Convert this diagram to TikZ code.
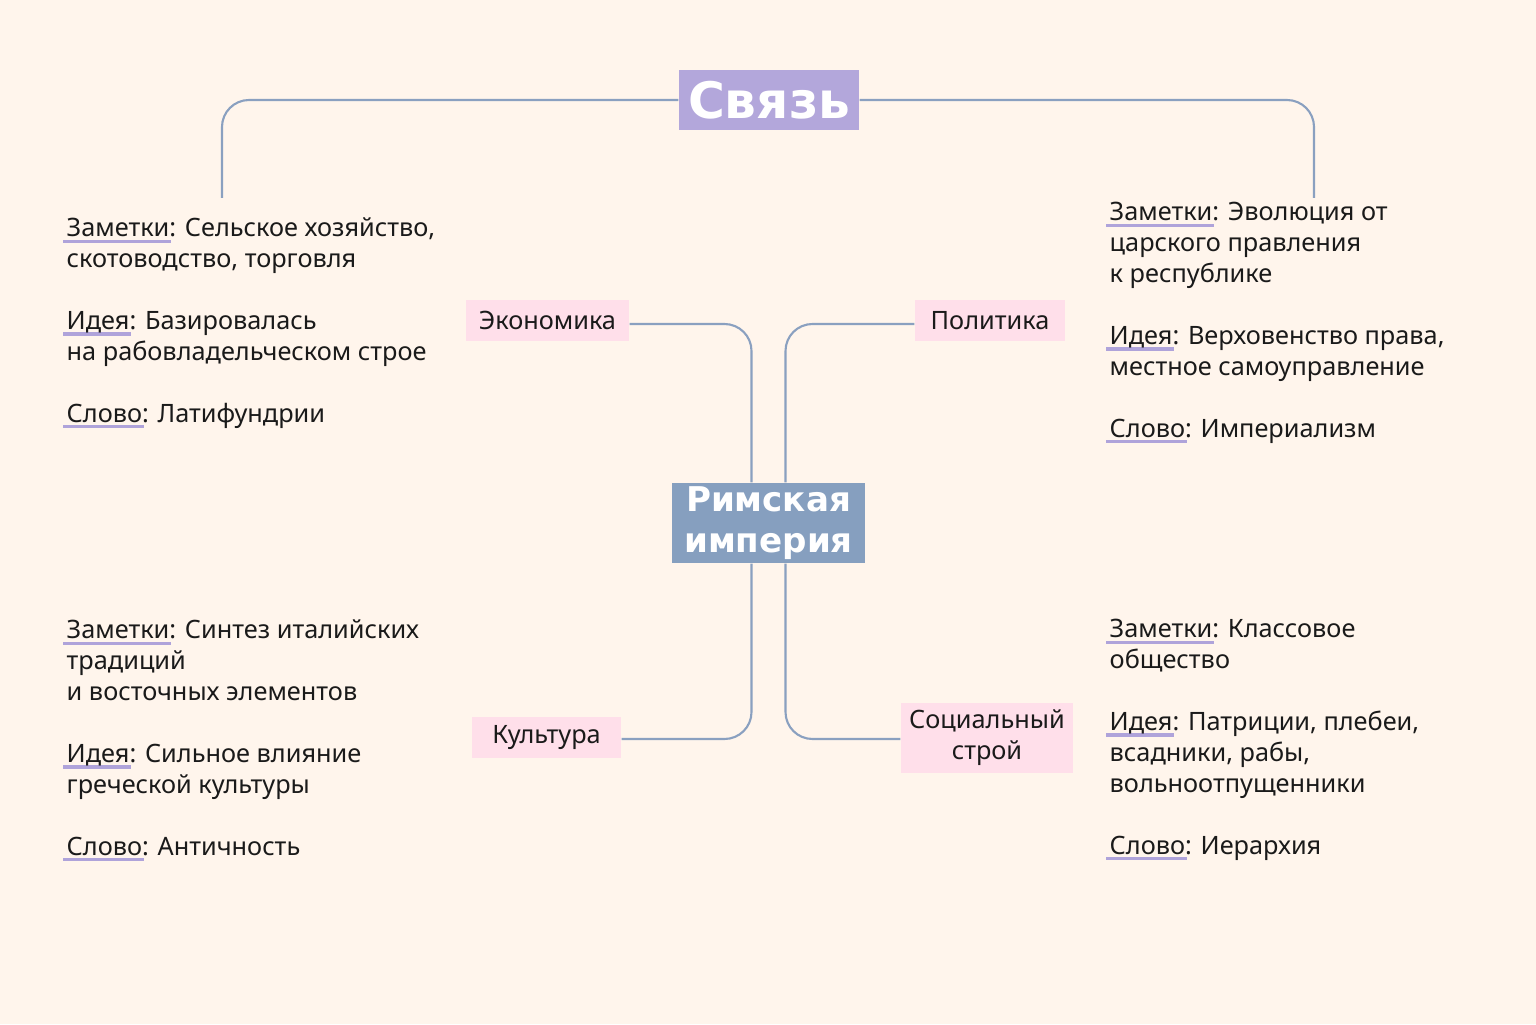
\documentclass[tikz,border=0pt]{standalone}
\usepackage{fontspec}
\setmainfont{Noto Sans}
\newfontfamily\headfont{DejaVu Sans}
\usetikzlibrary{positioning}

\definecolor{paper}{HTML}{FFF5EC}
\definecolor{linkcol}{HTML}{8AA0C0}
\definecolor{lavfill}{HTML}{B3A7DB}
\definecolor{bluefill}{HTML}{869FBF}
\definecolor{pinkfill}{HTML}{FFDFEA}
\definecolor{lavline}{HTML}{AFA3DA}
\definecolor{ink}{HTML}{1A1A1A}

% underlined key word
\newcommand\keyline[1]{\setbox0\hbox{#1}\rlap{\kern-1pt\textcolor{lavline}{\rule[-1.8pt]{\dimexpr\wd0+1.5pt\relax}{0.9pt}}}\box0}

\tikzset{
  link/.style={draw=linkcol, line width=0.6pt, rounded corners=0.27cm},
  topicbox/.style={fill=pinkfill, text=ink, inner sep=0pt, align=center,
    font=\fontsize{7.2}{8.8}\selectfont},
  notes/.style={text=ink, inner sep=0pt, align=left, anchor=base west,
    font=\fontsize{7.2}{8.8}\selectfont}
}

\begin{document}
\begin{tikzpicture}

\fill[paper] (0,0) rectangle (15.36,10.24);
\useasboundingbox (0,0) rectangle (15.36,10.24);

% main nodes
\node[fill=lavfill, text=white, inner sep=0pt, minimum width=1.80cm, minimum height=0.60cm,
  font=\headfont\bfseries\fontsize{14.3}{16}\selectfont] (svyaz) at (7.69,9.24) {Связь};
\node[fill=bluefill, text=white, inner sep=0pt, minimum width=1.93cm, minimum height=0.80cm, align=center,
  font=\headfont\bfseries\fontsize{9.7}{11.6}\selectfont] (rim) at (7.685,5.01) {Римская\\империя};

% topic boxes
\node[topicbox, minimum width=1.63cm, minimum height=0.41cm] (eco) at (5.475,7.035) {Экономика};
\node[topicbox, minimum width=1.50cm, minimum height=0.41cm] (pol) at (9.90,7.035) {Политика};
\node[topicbox, minimum width=1.49cm, minimum height=0.41cm] (kul) at (5.465,2.865) {Культура};
\node[topicbox, minimum width=1.72cm, minimum height=0.70cm] (soc) at (9.87,2.86) {Социальный\\строй};

% free ends of the top bracket
\coordinate (lend) at (2.22,8.26);
\coordinate (rend) at (13.14,8.26);

\draw[link] (svyaz.west) -| (lend);
\draw[link] (svyaz.east) -| (rend);

\draw[link] ([xshift=-0.17cm]rim.north) |- ([yshift=-0.035cm]eco.east);
\draw[link] ([xshift=0.17cm]rim.north) |- ([yshift=-0.035cm]pol.west);
\draw[link] ([xshift=-0.17cm]rim.south) |- ([yshift=-0.015cm]kul.east);
\draw[link] ([xshift=0.17cm]rim.south) |- ([yshift=-0.01cm]soc.west);

% notes (placed by the baseline of their last line)
\node[notes] (ecotext) at (0.66,6.02) {\keyline{Заметки}: Сельское хозяйство,\\
скотоводство, торговля\\[8.8pt]
\keyline{Идея}: Базировалась\\
на рабовладельческом строе\\[8.8pt]
\keyline{Слово}: Латифундрии};

\node[notes] (poltext) at (11.09,5.87) {\keyline{Заметки}: Эволюция от\\
царского правления\\
к республике\\[8.8pt]
\keyline{Идея}: Верховенство права,\\
местное самоуправление\\[8.8pt]
\keyline{Слово}: Империализм};

\node[notes] (kultext) at (0.66,1.69) {\keyline{Заметки}: Синтез италийских\\
традиций\\
и восточных элементов\\[8.8pt]
\keyline{Идея}: Сильное влияние\\
греческой культуры\\[8.8pt]
\keyline{Слово}: Античность};

\node[notes] (soctext) at (11.09,1.70) {\keyline{Заметки}: Классовое\\
общество\\[8.8pt]
\keyline{Идея}: Патриции, плебеи,\\
всадники, рабы,\\
вольноотпущенники\\[8.8pt]
\keyline{Слово}: Иерархия};

\end{tikzpicture}
\end{document}
